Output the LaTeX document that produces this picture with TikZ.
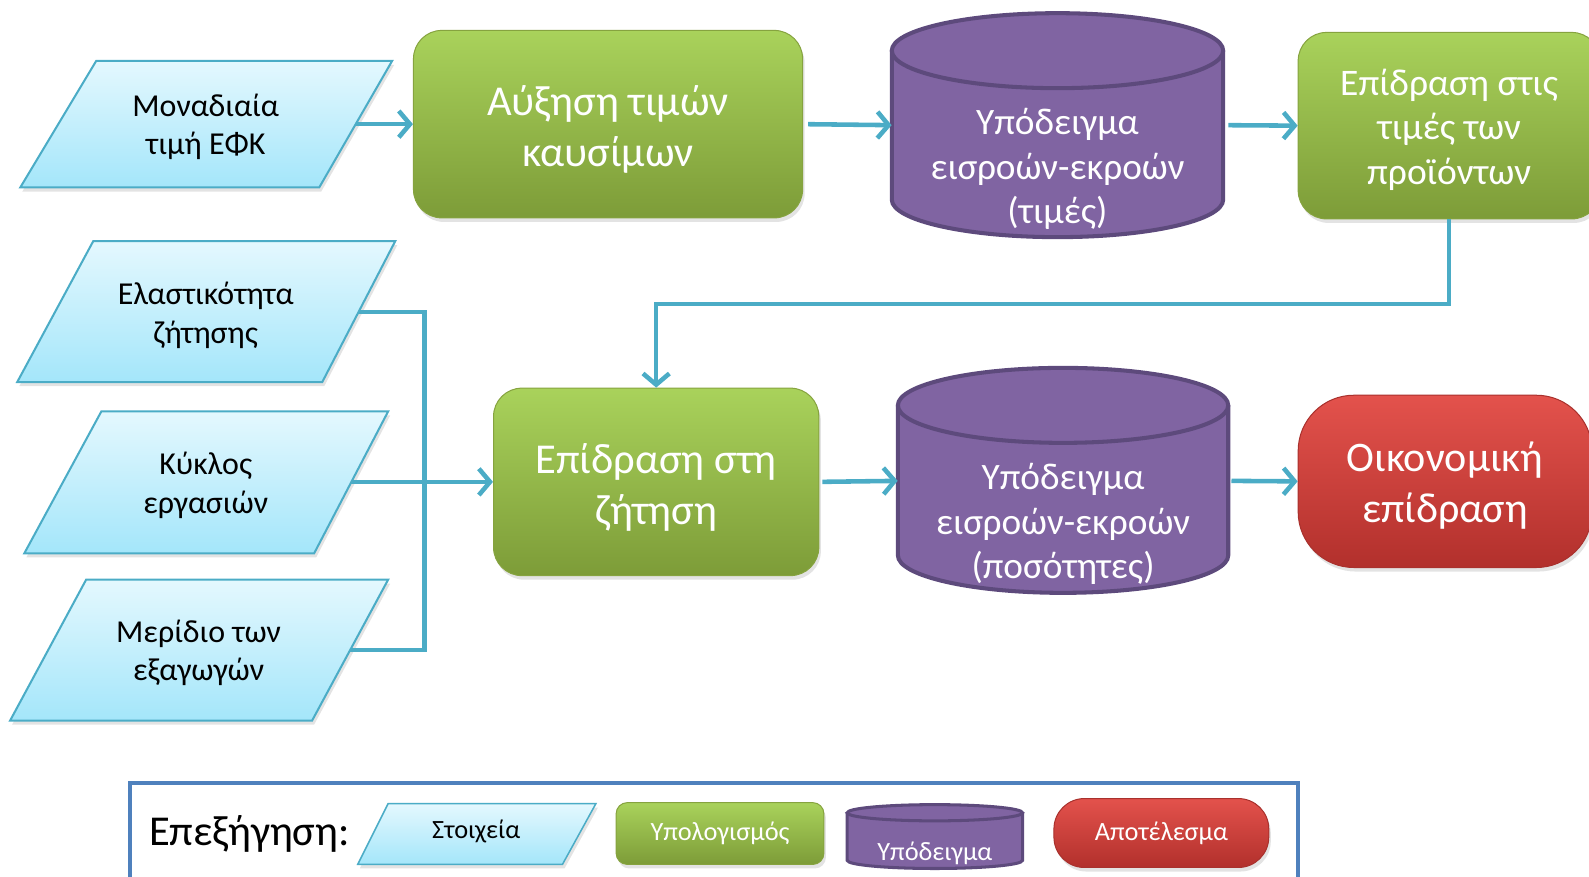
\documentclass[tikz,border=0pt]{standalone}
\usepackage{fontspec}
\setmainfont{Carlito}
\usetikzlibrary{arrows.meta,shadows}
\definecolor{lineblue}{HTML}{4BACC6}
\definecolor{paraTop}{HTML}{E4F8FE}
\definecolor{paraBot}{HTML}{A4E6FA}
\definecolor{greenTop}{HTML}{A9D25B}
\definecolor{greenBot}{HTML}{7D9C38}
\definecolor{greenEdge}{HTML}{86A33F}
\definecolor{cylPurple}{HTML}{8064A2}
\definecolor{cylEdge}{HTML}{5D4A7C}
\definecolor{redTop}{HTML}{E3524C}
\definecolor{redBot}{HTML}{B2302C}
\definecolor{redEdge}{HTML}{A9312D}
\definecolor{legBlue}{HTML}{4F81BD}
\newcommand\drawcylinder[6]{% cx, rx, ytop, ybot, ry, linewidth
  \fill[cylPurple] ({#1-#2},#3) rectangle ({#1+#2},#4);
  \fill[cylPurple] (#1,#4) ellipse[x radius=#2, y radius=#5];
  \draw[cylEdge, line width=#6] ({#1-#2},#3) -- ({#1-#2},#4) arc[start angle=180,end angle=0,x radius=#2,y radius=#5] -- ({#1+#2},#3);
  \draw[cylEdge, line width=#6, fill=cylPurple] (#1,#3) ellipse[x radius=#2, y radius=#5];
}
\begin{document}
\begin{tikzpicture}[x=1pt,y=-1pt,
  shadowed/.style={drop shadow={opacity=0.22, shadow xshift=2pt, shadow yshift=-4pt}},
  para/.style={top color=paraTop, bottom color=paraBot, draw=lineblue, line width=2pt, shadowed},
  ptext/.style={align=center, inner sep=0pt, font=\fontsize{31.5}{38}\selectfont, text=black},
  gbox/.style={rectangle, rounded corners=28pt, top color=greenTop, bottom color=greenBot, draw=greenEdge, line width=1pt, shadowed, text=white, align=center, inner sep=0pt},
  rbox/.style={rectangle, rounded corners=55pt, top color=redTop, bottom color=redBot, draw=redEdge, line width=1pt, shadowed, text=white, align=center, inner sep=0pt},
  ctext/.style={align=center, inner sep=0pt, text=white, font=\fontsize{36.8}{44}\selectfont},
  conn/.style={draw=lineblue, line width=4.5pt},
  arr/.style={conn, -{Straight Barb[length=11pt,width=26pt]}},
]
\useasboundingbox (0,0) rectangle (1568,865);

% ---------- input parallelograms ----------
\path[para] (95,60) -- (387,60) -- (315,185) -- (20,185) -- cycle;
\node[ptext] (p1) at (203,125) {Μοναδιαία\\τιμή ΕΦΚ};
\coordinate (p1r) at (351,122.5);

\path[para] (92,238) -- (390,238) -- (318,377) -- (17,377) -- cycle;
\node[ptext] (p2) at (203,311) {Ελαστικότητα\\ζήτησης};
\coordinate (p2r) at (354,308);

\path[para] (100,406) -- (383,406) -- (310,546) -- (24,546) -- cycle;
\node[ptext] (p3) at (203,479) {Κύκλος\\εργασιών};
\coordinate (p3r) at (346.5,475.5);

\path[para] (85,572) -- (383,572) -- (308,711) -- (10,711) -- cycle;
\node[ptext] (p4) at (196,644) {Μερίδιο των\\εξαγωγών};
\coordinate (p4r) at (345.5,641.5);

% ---------- green computation boxes ----------
\node[gbox, minimum width=384pt, minimum height=185pt, font=\fontsize{42}{50}\selectfont] (g1) at (600,122.5) {};
\node[text=white, align=center, inner sep=0pt, font=\fontsize{42}{50}\selectfont] (g1t) at (600,128) {Αύξηση τιμών\\καυσίμων};
\node[gbox, minimum width=298pt, minimum height=184pt] (g2) at (1430,124) {};
\node[text=white, align=center, inner sep=0pt, font=\fontsize{37}{44}\selectfont] (g2t) at (1430,128) {Επίδραση στις\\τιμές των\\προϊόντων};
\node[gbox, minimum width=321pt, minimum height=185pt] (g3) at (647.5,475.5) {};
\node[text=white, align=center, inner sep=0pt, font=\fontsize{42}{50}\selectfont] (g3t) at (647.5,481) {Επίδραση στη\\ζήτηση};

% ---------- red result ----------
\node[rbox, minimum width=290pt, minimum height=170pt] (res) at (1426,475) {};
\node[text=white, align=center, inner sep=0pt, font=\fontsize{41.5}{50}\selectfont] (rest) at (1426,479) {Οικονομική\\επίδραση};

% ---------- cylinders ----------
\drawcylinder{1043.5}{163.5}{50}{197}{37}{4pt}
\node[inner sep=0pt, minimum width=327pt, minimum height=147pt] (c1) at (1043.5,123.5) {};
\node[ctext] (c1t) at (1043.5,167) {Υπόδειγμα\\εισροών-εκροών\\(τιμές)};

\drawcylinder{1049}{163}{400}{548}{37}{4pt}
\node[inner sep=0pt, minimum width=326pt, minimum height=148pt] (c2) at (1049,474.5) {};
\node[ctext] (c2t) at (1049,517) {Υπόδειγμα\\εισροών-εκροών\\(ποσότητες)};

% ---------- connectors ----------
\draw[arr] (p1r) -- (g1.west);
\draw[arr, shorten <=5pt] (g1.east) -- (c1.west);
\draw[arr, shorten <=5pt] (c1.east) -- (g2.west);
\coordinate (turn) at (1000,300);
\draw[arr] (g2.south) |- (turn) -| (g3.north);
\coordinate (jn) at (419,475.5);
\draw[conn] (p2r) -| (jn) |- (p4r);
\draw[arr] (p3r) -- (g3.west);
\draw[arr, shorten <=3pt] (g3.east) -- (c2.west);
\draw[arr, shorten <=3pt] (c2.east) -- (res.west);

% ---------- legend ----------
\draw[draw=legBlue, line width=4pt, fill=white] (128,773) rectangle (1281,885);
\node[anchor=west, inner sep=0pt, font=\fontsize{42}{48}\selectfont] (legt) at (147,823) {Επεξήγηση:};
\path[para, line width=1.5pt] (383,793) -- (588,793) -- (555,853) -- (353,853) -- cycle;
\node[ptext, font=\fontsize{26}{30}\selectfont] (lp) at (470,820) {Στοιχεία};
\node[gbox, rounded corners=11pt, minimum width=205pt, minimum height=61pt, font=\fontsize{26}{30}\selectfont] (lg) at (710.5,822.5) {Υπολογισμός};
\drawcylinder{922.5}{86.5}{802}{849}{8}{3pt}
\node[ctext, font=\fontsize{26}{30}\selectfont] (lc) at (922.5,842) {Υπόδειγμα};
\node[rbox, rounded corners=30pt, minimum width=212pt, minimum height=68pt, font=\fontsize{26}{30}\selectfont] (lr) at (1146,822) {Αποτέλεσμα};
\end{tikzpicture}
\end{document}
